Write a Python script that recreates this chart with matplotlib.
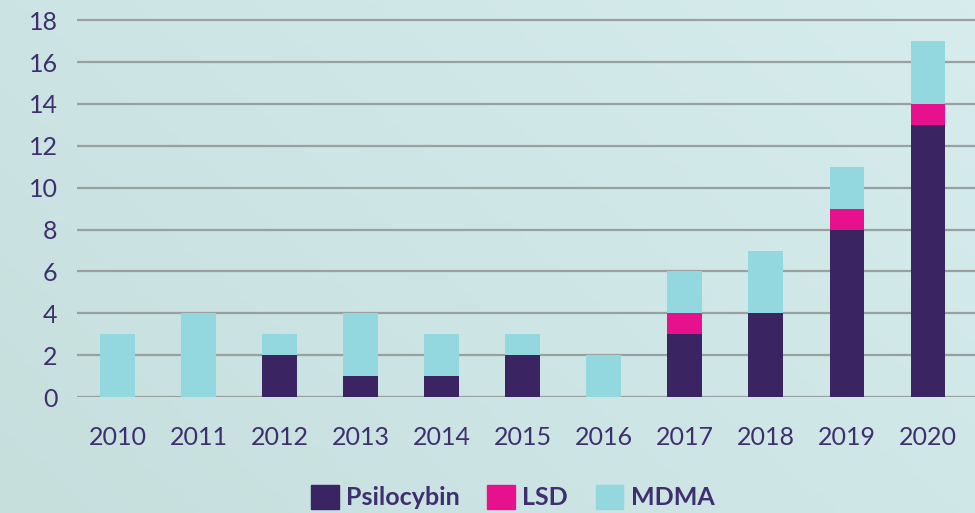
import numpy as np
import matplotlib.pyplot as plt
from matplotlib.patches import Patch

years = ['2010', '2011', '2012', '2013', '2014', '2015', '2016', '2017', '2018', '2019', '2020']
psilocybin = [0, 0, 2, 1, 1, 2, 0, 3, 4, 8, 13]
lsd = [0, 0, 0, 0, 0, 0, 0, 1, 0, 1, 1]
mdma = [3, 4, 1, 3, 2, 1, 2, 2, 3, 2, 3]

c_psi = '#3a2461'
c_lsd = '#e8118d'
c_mdma = '#93d7df'
text_col = '#3f2f6e'
bg = '#cfe6e5'

plt.rcParams['font.family'] = ['Lato', 'DejaVu Sans']

fig = plt.figure(figsize=(9.75, 5.13), dpi=100, facecolor=bg)

# soft background gradient
bgax = fig.add_axes([0, 0, 1, 1], zorder=-10)
gx = np.linspace(0, 1, 200)
gy = np.linspace(0, 1, 100)
X, Y = np.meshgrid(gx, gy)
grad = 0.5 * X + 0.3 * (1 - Y)
bgax.imshow(grad, cmap=plt.matplotlib.colors.LinearSegmentedColormap.from_list(
    'bg', ['#c6dfdd', '#d6eced']), aspect='auto', extent=[0, 1, 0, 1])
bgax.axis('off')

ax = fig.add_axes([0.079, 0.226, 0.921, 0.755])
ax.patch.set_alpha(0)

x = np.arange(len(years))
w = 0.43
psi = np.array(psilocybin)
ls = np.array(lsd)
md = np.array(mdma)
ax.bar(x, psi, w, color=c_psi, zorder=3)
ax.bar(x, ls, w, bottom=psi, color=c_lsd, zorder=3)
ax.bar(x, md, w, bottom=psi + ls, color=c_mdma, zorder=3)

ax.set_xlim(-0.5, 10.58)
ax.set_ylim(0, 18.5)
ax.set_yticks(range(0, 19, 2))
ax.yaxis.grid(True, color='#9a9fa0', linewidth=1.6, zorder=0)
ax.set_axisbelow(True)
for s in ax.spines.values():
    s.set_visible(False)
ax.tick_params(length=0, labelsize=18, colors=text_col)
ax.tick_params(axis='y', pad=14)
ax.tick_params(axis='x', pad=21)
ax.set_xticks(x)
ax.set_xticklabels(years)

handles = [Patch(color=c_psi, label='Psilocybin'),
           Patch(color=c_lsd, label='LSD'),
           Patch(color=c_mdma, label='MDMA')]
leg = fig.legend(handles=handles, loc='center', bbox_to_anchor=(0.526, 0.031), ncol=3,
                 frameon=False, handlelength=1.1, handleheight=1.1,
                 handletextpad=0.3, columnspacing=1.1,
                 prop={'weight': 'bold', 'size': 18})
for t in leg.get_texts():
    t.set_color(text_col)

fig.savefig('out.png', dpi=100, facecolor=bg)
